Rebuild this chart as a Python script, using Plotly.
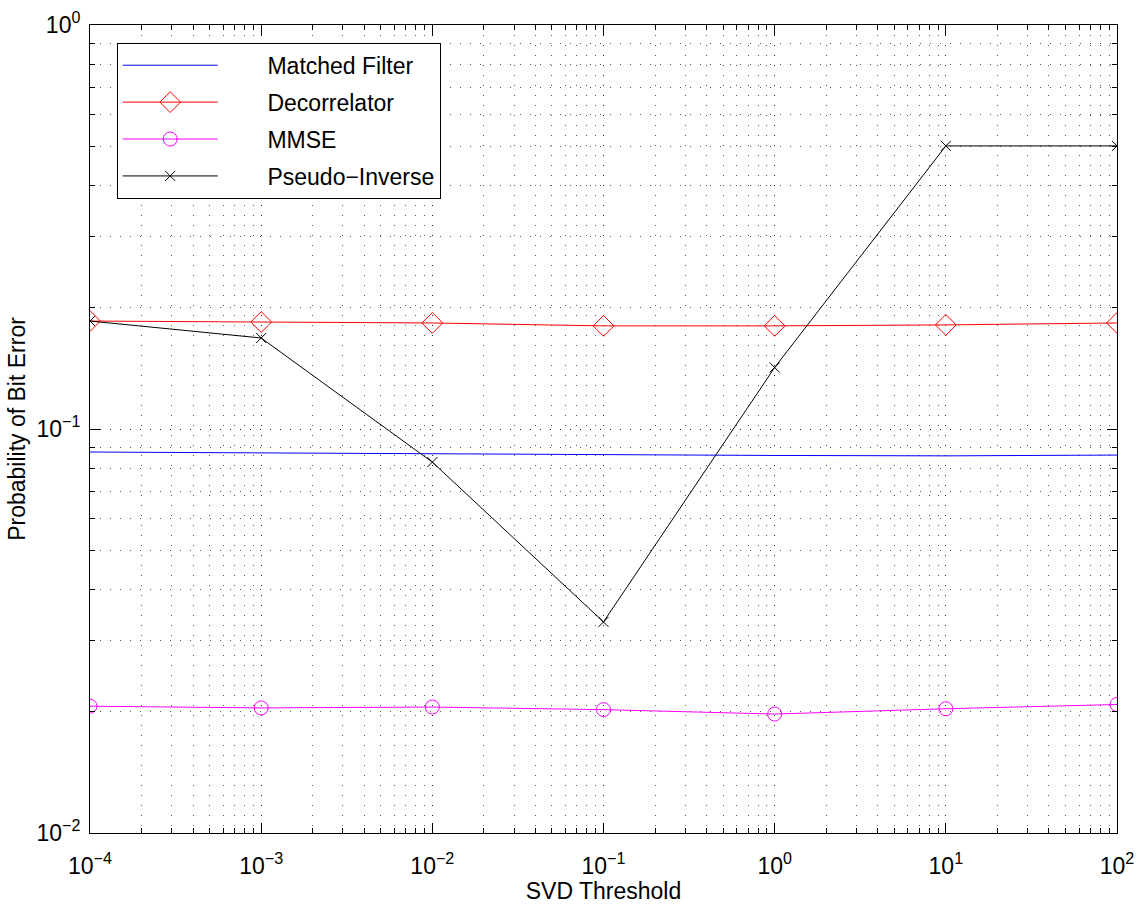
import plotly.graph_objects as go

svd_threshold = [1e-4, 1e-3, 1e-2, 1e-1, 1e0, 1e1, 1e2]
matched_filter = [0.0877, 0.0872, 0.0868, 0.0864, 0.0860, 0.0858, 0.0862]
decorrelator = [0.185, 0.184, 0.183, 0.180, 0.180, 0.181, 0.183]
mmse = [0.0206, 0.0204, 0.0205, 0.0202, 0.0197, 0.0203, 0.0208]
pseudo_inverse = [0.185, 0.168, 0.0828, 0.0333, 0.142, 0.502, 0.502]

series_names = ["Matched Filter", "Decorrelator", "MMSE", "Pseudo−Inverse"]

x_tickvals = [1e-4, 1e-3, 1e-2, 1e-1, 1e0, 1e1, 1e2]
x_ticktext = ["10<sup>−4</sup>", "10<sup>−3</sup>", "10<sup>−2</sup>", "10<sup>−1</sup>",
              "10<sup>0</sup>", "10<sup>1</sup>", "10<sup>2</sup>"]
y_tickvals = [1e-2, 1e-1, 1e0]
y_ticktext = ["10<sup>−2</sup>", "10<sup>−1</sup>", "10<sup>0</sup>"]

FONT = "Liberation Sans, Arial, sans-serif"
PAD = "\u00a0" * 7

fig = go.Figure()
fig.add_trace(go.Scatter(x=svd_threshold, y=matched_filter, mode="lines", name=PAD + series_names[0],
                         line=dict(color="#0000ff", width=1), legendgroup="a"))
fig.add_trace(go.Scatter(x=svd_threshold, y=decorrelator, mode="lines+markers", name=PAD + series_names[1],
                         line=dict(color="#ff0000", width=1),
                         marker=dict(symbol="diamond-open", size=16, color="#ff0000", line=dict(width=1)),
                         legendgroup="b"))
fig.add_trace(go.Scatter(x=svd_threshold, y=mmse, mode="lines+markers", name=PAD + series_names[2],
                         line=dict(color="#ff00ff", width=1),
                         marker=dict(symbol="circle-open", size=14, color="#ff00ff", line=dict(width=1)),
                         legendgroup="c"))
fig.add_trace(go.Scatter(x=svd_threshold, y=pseudo_inverse, mode="lines+markers", name=PAD + series_names[3],
                         line=dict(color="#000000", width=1),
                         marker=dict(symbol="x-thin-open", size=10, color="#000000",
                                     line=dict(width=1, color="#000000")),
                         legendgroup="d"))

GRIDC = "rgba(0,0,0,0.65)"
DASH = "1px,9px"
common = dict(
    showgrid=True, gridcolor=GRIDC, griddash=DASH, gridwidth=1,
    showline=True, linecolor="black", linewidth=1, mirror="allticks",
    ticks="inside", ticklen=10, tickcolor="black",
    tickfont=dict(family=FONT, size=23, color="black"),
    zeroline=False, automargin=False,
)
minor = dict(dtick="D1", showgrid=True, gridcolor=GRIDC, griddash=DASH, gridwidth=1,
             ticks="inside", ticklen=5, tickcolor="black")

fig.update_xaxes(type="log", range=[-4, 2], tickvals=x_tickvals, ticktext=x_ticktext,
                 ticklabelstandoff=12,
                 title=dict(text="SVD Threshold", standoff=2, font=dict(family=FONT, size=23, color="black")),
                 minor=minor, **common)
fig.update_yaxes(type="log", range=[-2, 0], tickvals=y_tickvals, ticktext=y_ticktext,
                 ticklabelstandoff=4,
                 title=dict(text="Probability of Bit Error", standoff=4, font=dict(family=FONT, size=23, color="black")),
                 minor=minor, **common)

fig.update_layout(
    width=1139, height=904,
    margin=dict(l=90, r=22, t=25, b=71, autoexpand=False),
    paper_bgcolor="white", plot_bgcolor="white",
    font=dict(family=FONT, size=23, color="black"),
    showlegend=True,
    legend=dict(x=0.026, y=0.978, xanchor="left", yanchor="top",
                bgcolor="white", bordercolor="black", borderwidth=1,
                font=dict(family=FONT, size=23, color="black"),
                itemwidth=95, tracegroupgap=4, traceorder="grouped"),
)

fig.write_html("out.html")
